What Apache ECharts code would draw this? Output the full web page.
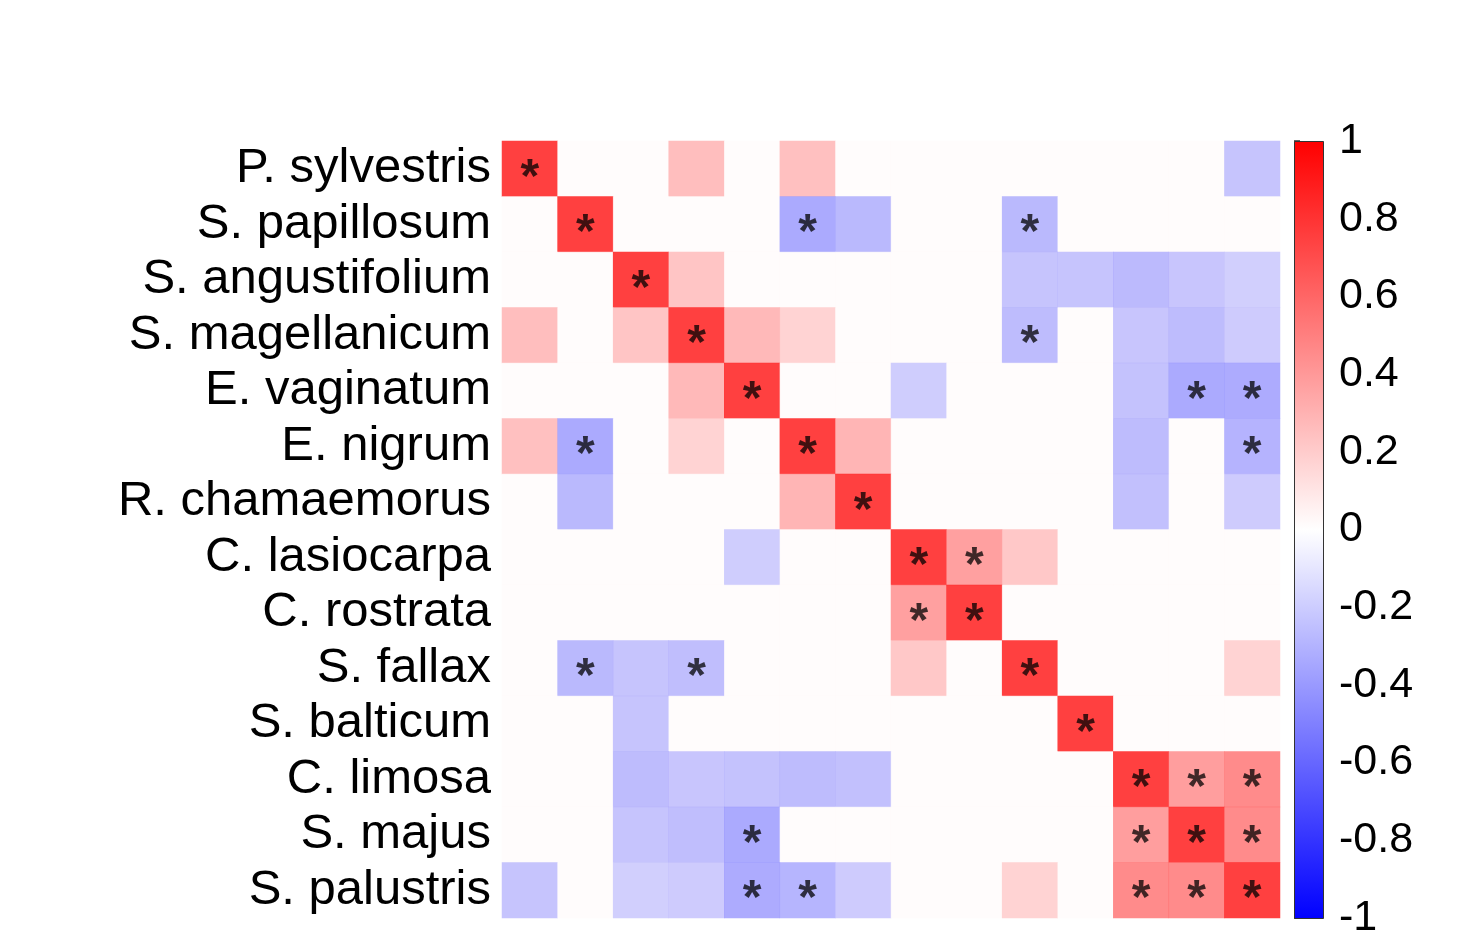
<!DOCTYPE html>
<html>
<head>
<meta charset="utf-8">
<script src="https://cdn.jsdelivr.net/npm/echarts@6/dist/echarts.min.js"></script>
<style>html,body{margin:0;padding:0;background:#fff;}#c{width:1478px;height:946px;}</style>
</head>
<body>
<div id="c"></div>
<script>
var species = ['P. sylvestris','S. papillosum','S. angustifolium','S. magellanicum','E. vaginatum','E. nigrum','R. chamaemorus','C. lasiocarpa','C. rostrata','S. fallax','S. balticum','C. limosa','S. majus','S. palustris'];

var corr = [
  [1, 0, 0, 0.33, 0, 0.32, 0, 0, 0, 0, 0, 0, 0, -0.30],
  [0, 1, 0, 0, 0, -0.44, -0.36, 0, 0, -0.36, 0, 0, 0, 0],
  [0, 0, 1, 0.29, 0, 0, 0, 0, 0, -0.30, -0.30, -0.35, -0.29, -0.24],
  [0.33, 0, 0.29, 1, 0.36, 0.22, 0, 0, 0, -0.34, 0, -0.29, -0.34, -0.26],
  [0, 0, 0, 0.36, 1, 0, 0, -0.25, 0, 0, 0, -0.31, -0.44, -0.43],
  [0.32, -0.44, 0, 0.22, 0, 1, 0.38, 0, 0, 0, 0, -0.34, 0, -0.39],
  [0, -0.36, 0, 0, 0, 0.38, 1, 0, 0, 0, 0, -0.32, 0, -0.26],
  [0, 0, 0, 0, -0.25, 0, 0, 1, 0.49, 0.28, 0, 0, 0, 0],
  [0, 0, 0, 0, 0, 0, 0, 0.49, 1, 0, 0, 0, 0, 0],
  [0, -0.36, -0.30, -0.33, 0, 0, 0, 0.28, 0, 1, 0, 0, 0, 0.22],
  [0, 0, -0.30, 0, 0, 0, 0, 0, 0, 0, 1, 0, 0, 0],
  [0, 0, -0.34, -0.29, -0.31, -0.34, -0.32, 0, 0, 0, 0, 1, 0.50, 0.60],
  [0, 0, -0.30, -0.33, -0.44, 0, 0, 0, 0, 0, 0, 0.50, 1, 0.60],
  [-0.30, 0, -0.24, -0.26, -0.43, -0.38, -0.26, 0, 0, 0.22, 0, 0.60, 0.60, 1]
];

var sig = [
  [1,0,0,0,0,0,0,0,0,0,0,0,0,0],
  [0,1,0,0,0,1,0,0,0,1,0,0,0,0],
  [0,0,1,0,0,0,0,0,0,0,0,0,0,0],
  [0,0,0,1,0,0,0,0,0,1,0,0,0,0],
  [0,0,0,0,1,0,0,0,0,0,0,0,1,1],
  [0,1,0,0,0,1,0,0,0,0,0,0,0,1],
  [0,0,0,0,0,0,1,0,0,0,0,0,0,0],
  [0,0,0,0,0,0,0,1,1,0,0,0,0,0],
  [0,0,0,0,0,0,0,1,1,0,0,0,0,0],
  [0,1,0,1,0,0,0,0,0,1,0,0,0,0],
  [0,0,0,0,0,0,0,0,0,0,1,0,0,0],
  [0,0,0,0,0,0,0,0,0,0,0,1,1,1],
  [0,0,0,0,1,0,0,0,0,0,0,1,1,1],
  [0,0,0,0,1,1,0,0,0,0,0,1,1,1]
];

var barTicks = ['1','0.8','0.6','0.4','0.2','0','-0.2','-0.4','-0.6','-0.8','-1'];

var cells = [];
for (var r = 0; r < species.length; r++) {
  for (var c = 0; c < species.length; c++) {
    cells.push({value: [c, r, corr[r][c]], sig: sig[r][c]});
  }
}

var FONT = '"Liberation Sans", Arial, sans-serif';
var chart = echarts.init(document.getElementById('c'), null, {renderer: 'canvas'});
chart.setOption({
  backgroundColor: '#ffffff',
  animation: false,
  grid: [
    {left: 502, top: 141, width: 778, height: 777, containLabel: false},
    {left: 1294, top: 141, width: 29, height: 777, show: false}
  ],
  xAxis: [
    {type: 'category', gridIndex: 0, data: species, show: false},
    {type: 'value', gridIndex: 1, show: false, min: 0, max: 1}
  ],
  yAxis: [
    {type: 'category', gridIndex: 0, data: species, inverse: true,
     axisLine: {show: false}, axisTick: {show: false}, splitLine: {show: false},
     axisLabel: {color: '#000', fontFamily: FONT, fontSize: 49, margin: 11, interval: 0, hideOverlap: false}},
    {type: 'value', gridIndex: 1, min: -1, max: 1, interval: 0.2, position: 'right',
     axisLine: {show: false}, splitLine: {show: false},
     axisTick: {show: true, length: 6, inside: false, lineStyle: {color: '#333', width: 1.5}},
     axisLabel: {color: '#000', fontFamily: FONT, fontSize: 43, margin: 16,
       formatter: function (v) {
         var idx = Math.round((1 - v) / 0.2);
         return barTicks[idx];
       }}}
  ],
  visualMap: {
    type: 'continuous', min: -1, max: 1, seriesIndex: 0, show: false,
    inRange: {color: ['#0000FF', '#FFFBFB', '#FF0000']}
  },
  graphic: [{
    type: 'rect', left: 1294, top: 141, z: 5,
    shape: {width: 29, height: 777},
    style: {
      fill: new echarts.graphic.LinearGradient(0, 0, 0, 1, [
        {offset: 0, color: '#FF0000'},
        {offset: 0.5, color: '#FFFFFF'},
        {offset: 1, color: '#0000FF'}
      ]),
      stroke: '#333', lineWidth: 1
    }
  }],
  series: [{
    type: 'heatmap',
    xAxisIndex: 0, yAxisIndex: 0,
    data: cells,
    itemStyle: {opacity: 0.75, borderWidth: 0},
    emphasis: {disabled: true},
    label: {
      show: true,
      formatter: function (p) { return p.data.sig ? '*' : ''; },
      color: '#000', fontFamily: FONT, fontWeight: 'bold', fontSize: 48,
      offset: [0, 10]
    }
  }]
});
</script>
</body>
</html>
